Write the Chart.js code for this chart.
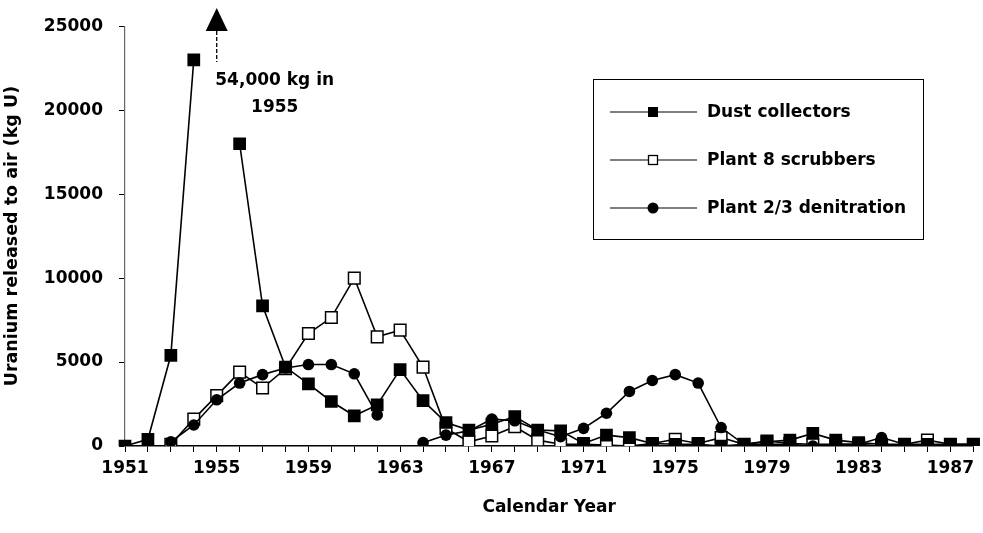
<!DOCTYPE html>
<html>
<head>
<meta charset="utf-8">
<script src="https://cdn.jsdelivr.net/npm/chart.js@4.4.1/dist/chart.umd.min.js"></script>
<style>
html,body{margin:0;padding:0;background:#fff;}
#wrap{width:983px;height:533px;position:relative;}
</style>
</head>
<body>
<div id="wrap"><canvas id="c" width="983" height="533"></canvas></div>
<script>
const years = [1951,1952,1953,1954,1955,1956,1957,1958,1959,1960,1961,1962,1963,1964,1965,1966,1967,1968,1969,1970,1971,1972,1973,1974,1975,1976,1977,1978,1979,1980,1981,1982,1983,1984,1985,1986,1987,1988];
const dustCollectors = [0,400,5400,23000,null,18000,8350,4700,3700,2650,1800,2450,4550,2700,1400,950,1300,1750,950,900,150,650,500,150,100,100,0,100,250,350,750,350,200,100,100,100,100,100];
const plant8Scrubbers = [null,null,100,1600,3000,4400,3450,4600,6700,7650,10000,6500,6900,4700,1050,250,600,1150,350,100,100,50,0,150,400,150,500,100,300,150,100,100,100,0,100,350,100,100];
const plant23Denitration = [null,null,250,1250,2750,3750,4250,4650,4850,4850,4300,1850,null,200,650,900,1600,1500,950,550,1050,1950,3250,3900,4250,3750,1100,100,100,100,0,100,100,500,100,50,50,50];
const yTicks = [0,5000,10000,15000,20000,25000];
const seriesNames = ['Dust collectors','Plant 8 scrubbers','Plant 2/3 denitration'];
const annotationYear = 1955;
const annotationLines = ['54,000 kg in','1955'];

const FONT = '"DejaVu Sans", "Liberation Sans", sans-serif';

const legendPlugin = {
  id: 'customLegend',
  afterDraw(chart) {
    const ctx = chart.ctx;
    ctx.save();
    ctx.strokeStyle = '#000';
    ctx.lineWidth = 1;
    ctx.strokeRect(593.5, 79.5, 330, 160);
    const rows = [112, 160, 208];
    const styles = ['filledRect','openRect','circle'];
    rows.forEach((ry, i) => {
      ctx.beginPath();
      ctx.strokeStyle = '#000';
      ctx.lineWidth = 1.2;
      ctx.moveTo(610, ry); ctx.lineTo(697, ry);
      ctx.stroke();
      ctx.beginPath();
      if (styles[i] === 'filledRect') {
        ctx.fillStyle = '#000';
        ctx.fillRect(648, ry - 5, 10, 10);
      } else if (styles[i] === 'openRect') {
        ctx.fillStyle = '#fff';
        ctx.fillRect(648, ry - 5, 10, 10);
        ctx.lineWidth = 1.3;
        ctx.strokeRect(648.5, ry - 4.5, 9, 9);
      } else {
        ctx.fillStyle = '#000';
        ctx.arc(653, ry, 5.5, 0, Math.PI * 2);
        ctx.fill();
      }
      ctx.fillStyle = '#000';
      ctx.font = 'bold 17px ' + FONT;
      ctx.textAlign = 'left';
      ctx.textBaseline = 'middle';
      ctx.fillText(seriesNames[i], 707, ry + 1);
    });
    const xs = chart.scales.x;
    const ax = xs.getPixelForValue(years.indexOf(annotationYear));
    ctx.fillStyle = '#000';
    ctx.beginPath();
    ctx.moveTo(ax, 8);
    ctx.lineTo(ax - 11, 31);
    ctx.lineTo(ax + 11, 31);
    ctx.closePath();
    ctx.fill();
    ctx.beginPath();
    ctx.setLineDash([4, 2]);
    ctx.lineWidth = 1.3;
    ctx.moveTo(ax, 31); ctx.lineTo(ax, 62);
    ctx.stroke();
    ctx.setLineDash([]);
    ctx.font = 'bold 17px ' + FONT;
    ctx.textAlign = 'center';
    ctx.textBaseline = 'middle';
    ctx.fillText(annotationLines[0], ax + 58, 81);
    ctx.fillText(annotationLines[1], ax + 58, 108);
    ctx.restore();
  }
};

const ctx = document.getElementById('c').getContext('2d');
new Chart(ctx, {
  type: 'line',
  data: {
    labels: years,
    datasets: [
      {
        label: seriesNames[0],
        data: dustCollectors,
        borderColor: '#000', backgroundColor: '#000',
        borderWidth: 1.6,
        pointStyle: 'rect', pointRadius: 9, pointHoverRadius: 9,
        pointBackgroundColor: '#000', pointBorderColor: '#000', pointBorderWidth: 0,
        spanGaps: false, tension: 0, order: 0
      },
      {
        label: seriesNames[1],
        data: plant8Scrubbers,
        borderColor: '#000', backgroundColor: '#fff',
        borderWidth: 1.6,
        pointStyle: 'rect', pointRadius: 8.2, pointHoverRadius: 8.2,
        pointBackgroundColor: '#fff', pointBorderColor: '#000', pointBorderWidth: 1.5,
        spanGaps: false, tension: 0, order: 2
      },
      {
        label: seriesNames[2],
        data: plant23Denitration,
        borderColor: '#000', backgroundColor: '#000',
        borderWidth: 1.6,
        pointStyle: 'circle', pointRadius: 5.8, pointHoverRadius: 5.8,
        pointBackgroundColor: '#000', pointBorderColor: '#000', pointBorderWidth: 0,
        spanGaps: false, tension: 0, order: 1
      }
    ]
  },
  options: {
    responsive: false,
    animation: false,
    devicePixelRatio: 1,
    layout: { padding: { top: 21, right: 3, left: 0, bottom: 0 } },
    plugins: { legend: { display: false }, tooltip: { enabled: false } },
    scales: {
      x: {
        type: 'category',
        offset: false,
        grid: { display: true, drawOnChartArea: false, drawTicks: true, tickLength: 6, color: '#000', lineWidth: 1 },
        border: { display: true, color: '#000', width: 1.5 },
        ticks: {
          autoSkip: false, maxRotation: 0, minRotation: 0,
          padding: 6, color: '#000',
          font: { family: FONT, size: 17, weight: 'bold' },
          callback: function(v, i) { const y = years[i]; return ((y - 1951) % 4 === 0) ? String(y) : ''; }
        },
        title: { display: true, text: 'Calendar Year', color: '#000', font: { family: FONT, size: 17, weight: 'bold' }, padding: { top: 0, bottom: 15 } },
        afterFit(scale) { scale.height = 87; }
      },
      y: {
        min: 0, max: 25000,
        afterBuildTicks(scale) { scale.ticks = yTicks.map(v => ({ value: v })); },
        grid: { display: true, drawOnChartArea: false, drawTicks: true, tickLength: 6, color: '#000', lineWidth: 1 },
        border: { display: true, color: '#666', width: 1.2 },
        ticks: {
          padding: 16, color: '#000',
          font: { family: FONT, size: 17, weight: 'bold' },
          callback: v => String(v)
        },
        title: { display: true, text: 'Uranium released to air (kg U)', color: '#000', font: { family: FONT, size: 17.5, weight: 'bold' }, padding: { top: 2, bottom: 0 } },
        afterFit(scale) { scale.width = 125; }
      }
    }
  },
  plugins: [legendPlugin]
});
</script>
</body>
</html>
